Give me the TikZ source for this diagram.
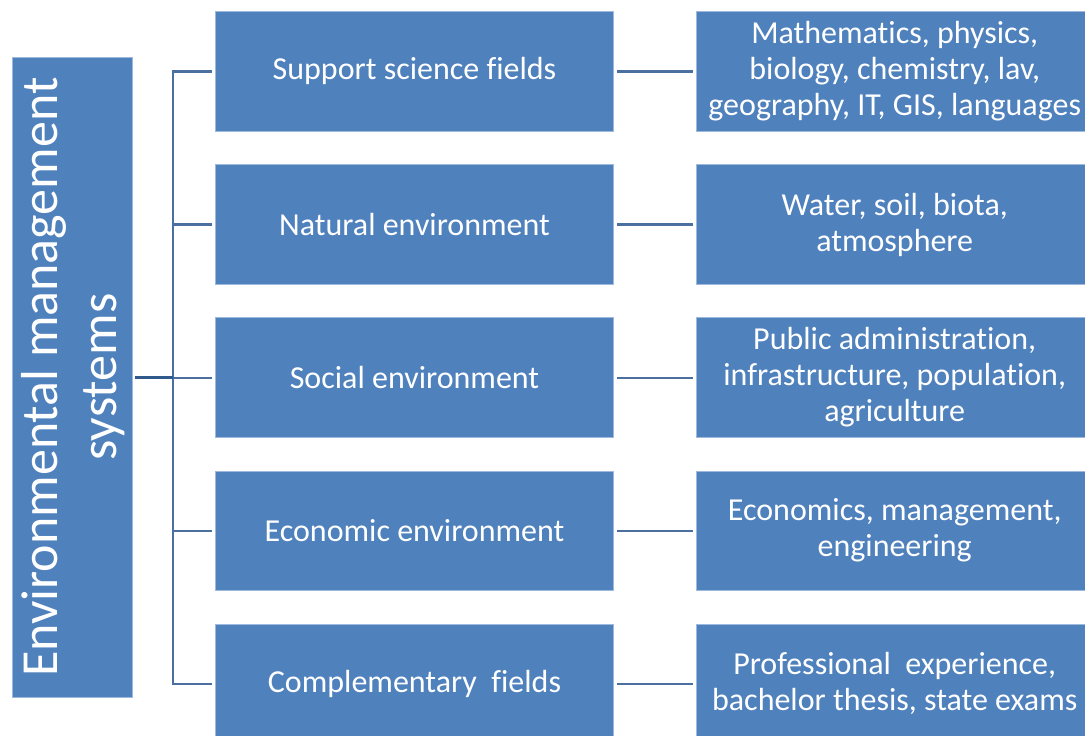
\documentclass[tikz,border=0pt]{standalone}
\usepackage{fontspec}
\setmainfont{Carlito}[Ligatures={NoCommon}]
\definecolor{boxblue}{HTML}{4F81BD}
\definecolor{boxedge}{HTML}{9DB9DD}
\definecolor{linkblue}{HTML}{4A6FA0}
\definecolor{hublink}{HTML}{30598C}
\begin{document}
\begin{tikzpicture}[x=1pt,y=-1pt,
  box/.style={draw=boxedge, line width=0.9pt, fill=boxblue, text=white,
    align=center, inner sep=0pt},
  midbox/.style={box, minimum width=397.6pt, minimum height=119.5pt,
    font=\fontsize{32}{36}\selectfont},
  sidebox/.style={box, minimum width=396pt, minimum height=119.5pt,
    font=\fontsize{32}{36}\selectfont},
  conn/.style={draw=linkblue, line width=2.2pt},
  hub/.style={draw=hublink, line width=3pt}]
\useasboundingbox (0,0) rectangle (1085,736);
\clip (0,0) rectangle (1085,736);

% root box with rotated title
\node[box, minimum width=120pt, minimum height=640pt] (env) at (72.4,377) {};
\node[rotate=90, text=white, align=center,
  font=\fontsize{52}{59}\selectfont] (envtext) at ([xshift=1pt]env.center)
  {Environmental management\\systems};

% middle column
\node[midbox] (m1) at (414.5,71.4)  {Support science fields};
\node[midbox] (m2) at (414.5,224.5) {Natural environment};
\node[midbox] (m3) at (414.5,377.6) {Social environment};
\node[midbox] (m4) at (414.5,530.7) {Economic environment};
\node[midbox] (m5) at (414.5,683.8) {Complementary\ \ fields};

% right column
\node[sidebox] (r1) at (894.7,71.4)  {Mathematics, physics,\\biology, chemistry, lav,\\geography, IT, GIS, languages};
\node[sidebox] (r2) at (894.7,224.5) {Water, soil, biota,\\atmosphere};
\node[sidebox] (r3) at (894.7,377.6) {Public administration,\\infrastructure, population,\\agriculture};
\node[sidebox] (r4) at (894.7,530.7) {Economics, management,\\engineering};
\node[sidebox] (r5) at (894.7,683.8) {Professional\ \ experience,\\bachelor thesis, state exams};

% spine of the tree
\coordinate (spine) at (173.3,377.6);
\draw[conn, line cap=rect] (m1.west -| spine) -- (m5.west -| spine);
\draw[hub, shorten <=2.6pt] (env.east) -- (env.east -| spine);
\foreach \i in {1,...,5}{
  \draw[conn, shorten <=3.5pt] (m\i.west) -- (m\i.west -| spine);
  \draw[conn, shorten <=3.4pt, shorten >=3.6pt] (m\i.east) -- (r\i.west);
}
\end{tikzpicture}
\end{document}
